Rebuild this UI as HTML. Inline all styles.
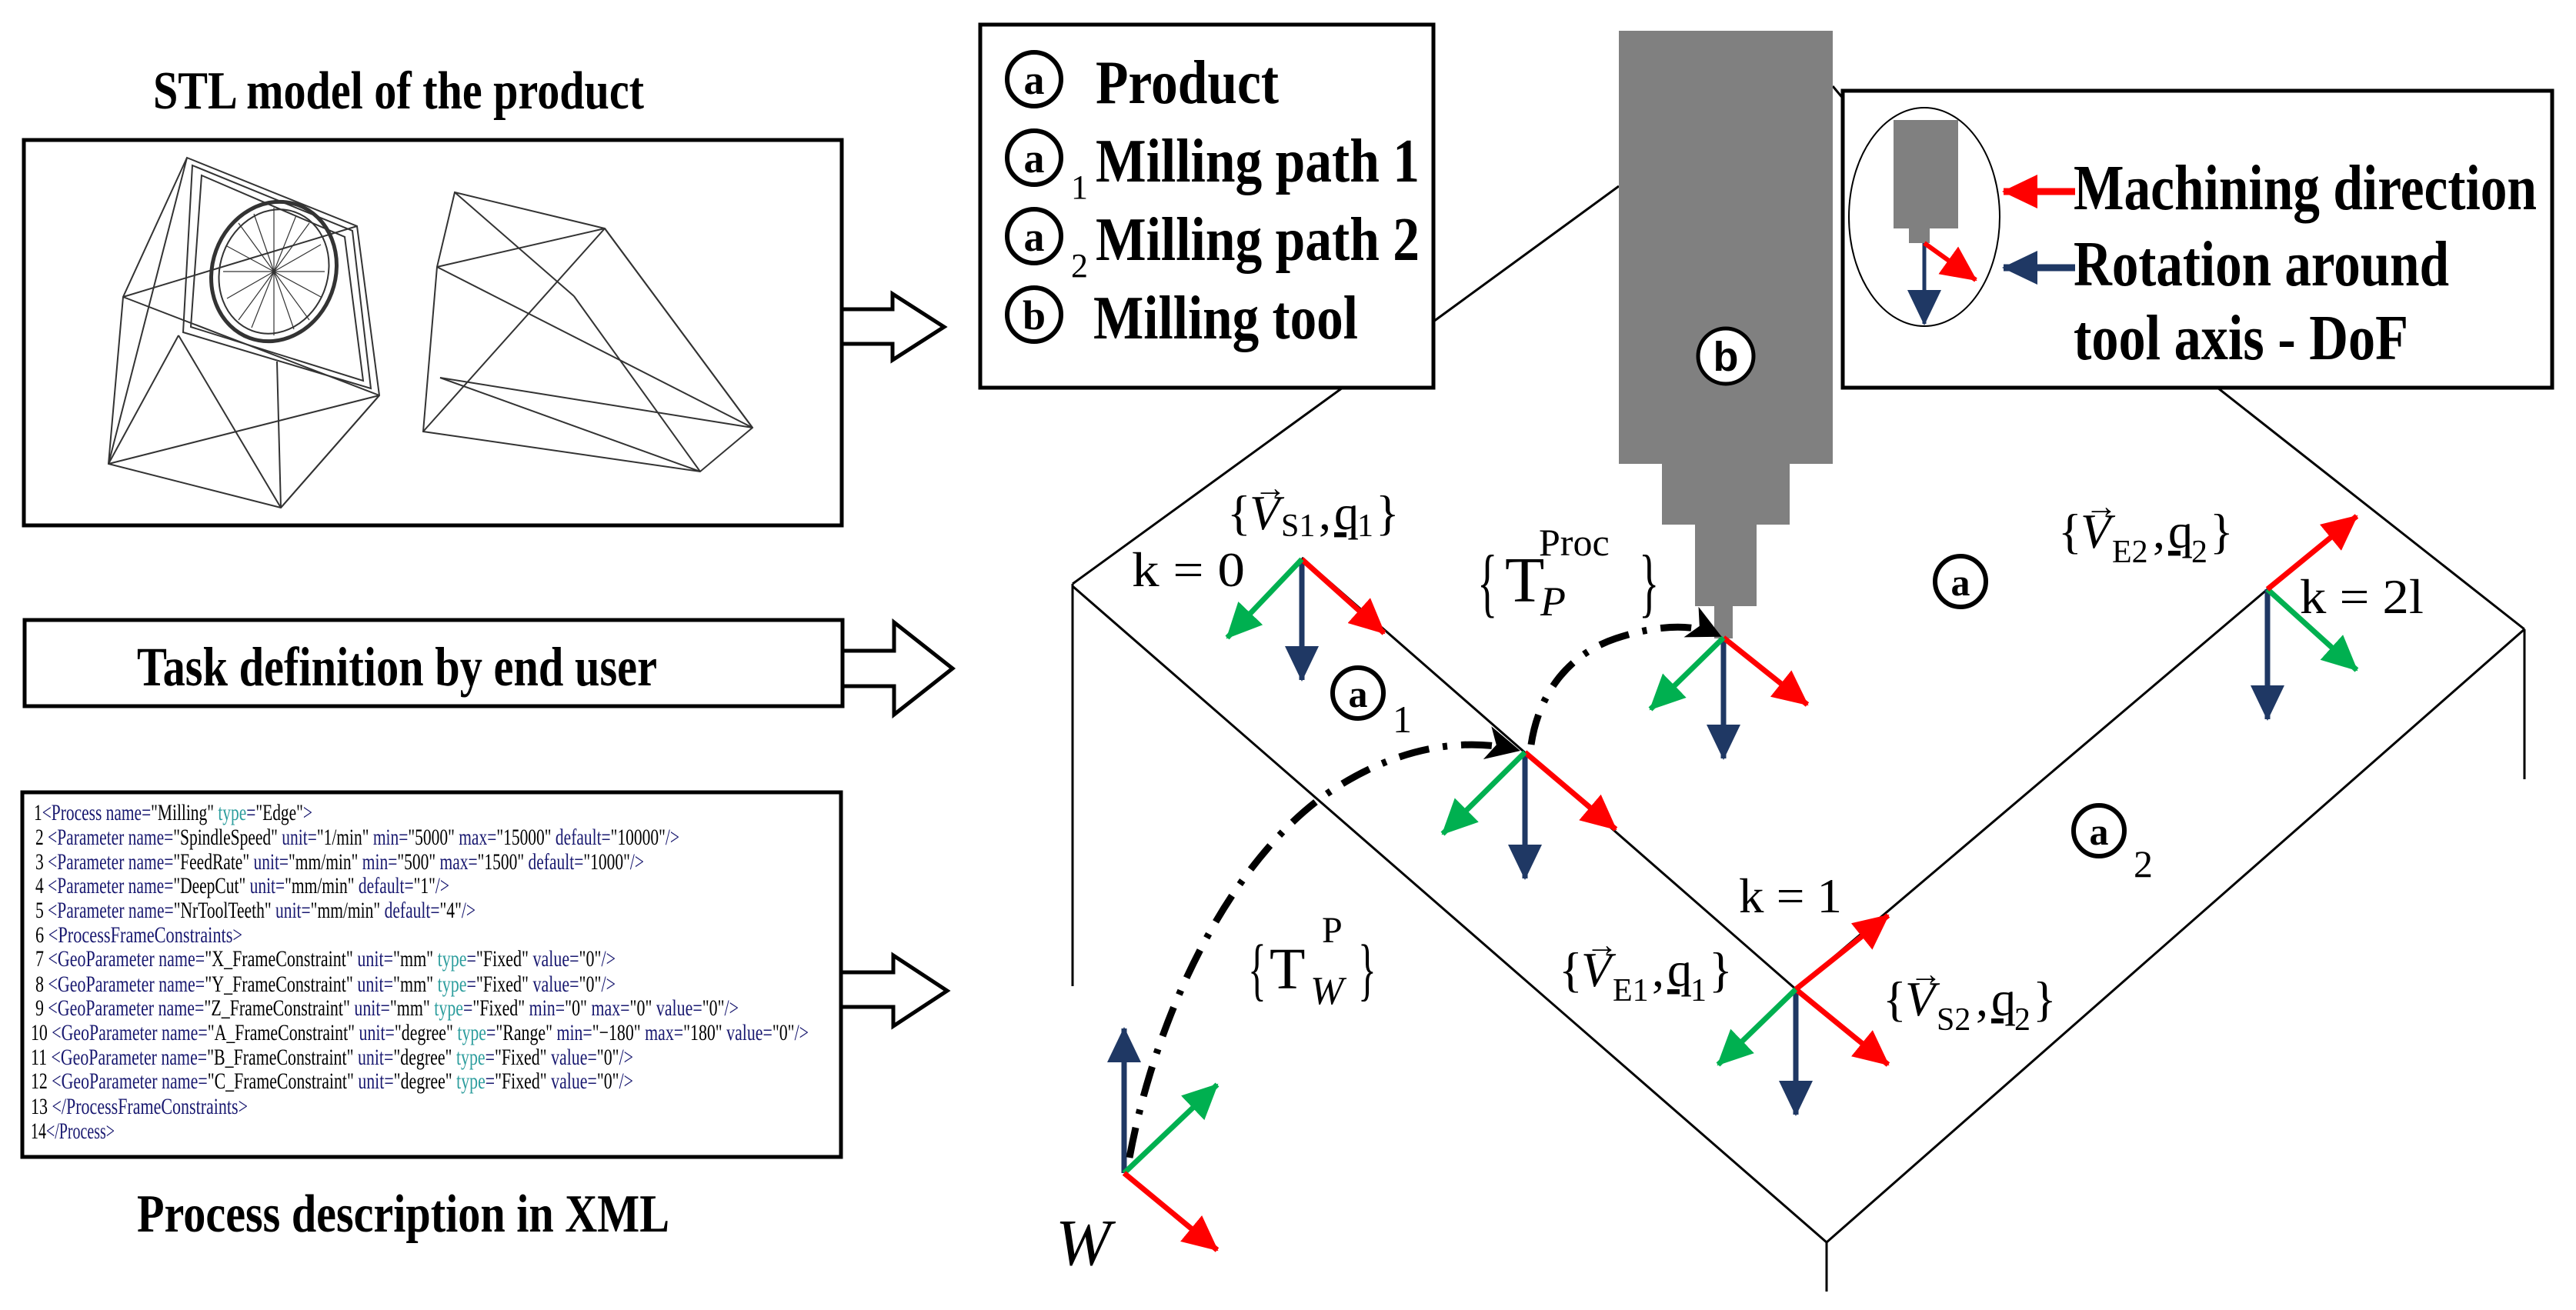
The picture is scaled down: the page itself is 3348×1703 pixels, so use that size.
<!DOCTYPE html>
<html><head><meta charset="utf-8"><style>
html,body{margin:0;padding:0;background:#fff;}
svg{display:block;font-family:"Liberation Serif",serif;}
text{font-family:"Liberation Serif",serif;}
.b{font-weight:bold;}
.sans{font-family:"Liberation Sans",sans-serif;font-weight:bold;}
.x{font-family:"Liberation Serif",serif;font-size:30px;fill:#191970;}
.t{fill:#2e9e9e;}
.k{fill:#000;}
</style></head><body>
<svg width="3348" height="1703" viewBox="0 0 3348 1703" xmlns="http://www.w3.org/2000/svg" font-family="Liberation Serif, serif">
<defs>
<marker id="mr" markerUnits="userSpaceOnUse" markerWidth="50" markerHeight="44" refX="44" refY="22" orient="auto"><path d="M0,0 L46,22 L0,44 Z" fill="#ff0000"/></marker>
<marker id="mg" markerUnits="userSpaceOnUse" markerWidth="50" markerHeight="44" refX="44" refY="22" orient="auto"><path d="M0,0 L46,22 L0,44 Z" fill="#00b050"/></marker>
<marker id="mb" markerUnits="userSpaceOnUse" markerWidth="50" markerHeight="44" refX="44" refY="22" orient="auto"><path d="M0,0 L46,22 L0,44 Z" fill="#1f3864"/></marker>
<marker id="mk" markerUnits="userSpaceOnUse" markerWidth="50" markerHeight="44" refX="40" refY="22" orient="auto"><path d="M0,0 L44,22 L0,44 L12,22 Z" fill="#000"/></marker>
</defs>

<text x="199" y="141" class="b" font-size="70" textLength="638" lengthAdjust="spacingAndGlyphs">STL model of the product</text>
<rect x="31" y="182" width="1063" height="501" fill="none" stroke="#000" stroke-width="5"/>
<g fill="none" stroke="#333" stroke-width="2">
<polygon points="243,205 464,294 493,514 365,660 141,603 160,386"/>
<polygon points="250,215 458,300 482,505 238,432"/>
<polygon points="262,228 448,308 472,495 248,425"/>
<line x1="160" y1="386" x2="464" y2="294"/><line x1="160" y1="386" x2="493" y2="514"/>
<line x1="141" y1="603" x2="243" y2="205"/><line x1="141" y1="603" x2="493" y2="514"/>
<line x1="365" y1="660" x2="232" y2="436"/><line x1="365" y1="660" x2="360" y2="470"/>
<line x1="141" y1="603" x2="232" y2="436"/><line x1="365" y1="660" x2="493" y2="514"/>
<ellipse cx="356" cy="353" rx="80" ry="92" transform="rotate(20 356 353)" stroke-width="5"/>
<ellipse cx="356" cy="353" rx="70" ry="82" transform="rotate(20 356 353)" stroke-width="2"/>
<g stroke-width="1.2">
<line x1="356" y1="353" x2="356" y2="270"/><line x1="356" y1="353" x2="356" y2="436"/><line x1="356" y1="353" x2="290" y2="353"/><line x1="356" y1="353" x2="422" y2="353"/>
<line x1="356" y1="353" x2="310" y2="290"/><line x1="356" y1="353" x2="402" y2="416"/><line x1="356" y1="353" x2="402" y2="290"/><line x1="356" y1="353" x2="310" y2="416"/>
<line x1="356" y1="353" x2="330" y2="278"/><line x1="356" y1="353" x2="382" y2="428"/><line x1="356" y1="353" x2="385" y2="280"/><line x1="356" y1="353" x2="327" y2="426"/>
<line x1="356" y1="353" x2="295" y2="320"/><line x1="356" y1="353" x2="417" y2="386"/><line x1="356" y1="353" x2="417" y2="318"/><line x1="356" y1="353" x2="295" y2="388"/>
</g>
<polygon points="591,250 786,297 978,556 910,613 550,561 568,347"/>
<line x1="591" y1="250" x2="746" y2="385"/><line x1="568" y1="347" x2="786" y2="297"/>
<line x1="568" y1="347" x2="978" y2="556"/><line x1="786" y1="297" x2="550" y2="561"/>
<line x1="572" y1="491" x2="978" y2="556"/><line x1="572" y1="491" x2="910" y2="613"/>
<line x1="746" y1="385" x2="910" y2="613"/><line x1="786" y1="297" x2="978" y2="556"/>
</g>
<polygon points="1094,402 1160,402 1160,382 1227,425 1160,468 1160,447 1094,447" fill="#fff" stroke="#000" stroke-width="5"/>

<rect x="32" y="806" width="1063" height="112" fill="none" stroke="#000" stroke-width="5"/>
<text x="178" y="891" class="b" font-size="72" textLength="676" lengthAdjust="spacingAndGlyphs">Task definition by end user</text>
<polygon points="1095,846 1162,846 1162,809 1238,869 1162,929 1162,892 1095,892" fill="#fff" stroke="#000" stroke-width="5"/>

<rect x="29" y="1030" width="1064" height="474" fill="none" stroke="#000" stroke-width="5"/>
<g class="x">
<text x="44" y="1066" textLength="362" lengthAdjust="spacingAndGlyphs"><tspan class="k">1</tspan>&lt;Process name=<tspan class="k">"Milling"</tspan> <tspan class="t">type</tspan>=<tspan class="k">"Edge"</tspan>&gt;</text>
<text x="46" y="1098" textLength="837" lengthAdjust="spacingAndGlyphs"><tspan class="k">2 </tspan>&lt;Parameter name=<tspan class="k">"SpindleSpeed"</tspan> unit=<tspan class="k">"1/min"</tspan> min=<tspan class="k">"5000"</tspan> max=<tspan class="k">"15000"</tspan> default=<tspan class="k">"10000"</tspan>/&gt;</text>
<text x="46" y="1130" textLength="791" lengthAdjust="spacingAndGlyphs"><tspan class="k">3 </tspan>&lt;Parameter name=<tspan class="k">"FeedRate"</tspan> unit=<tspan class="k">"mm/min"</tspan> min=<tspan class="k">"500"</tspan> max=<tspan class="k">"1500"</tspan> default=<tspan class="k">"1000"</tspan>/&gt;</text>
<text x="46" y="1161" textLength="538" lengthAdjust="spacingAndGlyphs"><tspan class="k">4 </tspan>&lt;Parameter name=<tspan class="k">"DeepCut"</tspan> unit=<tspan class="k">"mm/min"</tspan> default=<tspan class="k">"1"</tspan>/&gt;</text>
<text x="46" y="1193" textLength="572" lengthAdjust="spacingAndGlyphs"><tspan class="k">5 </tspan>&lt;Parameter name=<tspan class="k">"NrToolTeeth"</tspan> unit=<tspan class="k">"mm/min"</tspan> default=<tspan class="k">"4"</tspan>/&gt;</text>
<text x="46" y="1225" textLength="269" lengthAdjust="spacingAndGlyphs"><tspan class="k">6  </tspan>&lt;ProcessFrameConstraints&gt;</text>
<text x="46" y="1256" textLength="754" lengthAdjust="spacingAndGlyphs"><tspan class="k">7   </tspan>&lt;GeoParameter name=<tspan class="k">"X_FrameConstraint"</tspan> unit=<tspan class="k">"mm"</tspan> <tspan class="t">type</tspan>=<tspan class="k">"Fixed"</tspan> value=<tspan class="k">"0"</tspan>/&gt;</text>
<text x="46" y="1289" textLength="754" lengthAdjust="spacingAndGlyphs"><tspan class="k">8   </tspan>&lt;GeoParameter name=<tspan class="k">"Y_FrameConstraint"</tspan> unit=<tspan class="k">"mm"</tspan> <tspan class="t">type</tspan>=<tspan class="k">"Fixed"</tspan> value=<tspan class="k">"0"</tspan>/&gt;</text>
<text x="46" y="1320" textLength="914" lengthAdjust="spacingAndGlyphs"><tspan class="k">9   </tspan>&lt;GeoParameter name=<tspan class="k">"Z_FrameConstraint"</tspan> unit=<tspan class="k">"mm"</tspan> <tspan class="t">type</tspan>=<tspan class="k">"Fixed"</tspan> min=<tspan class="k">"0"</tspan> max=<tspan class="k">"0"</tspan> value=<tspan class="k">"0"</tspan>/&gt;</text>
<text x="40" y="1352" textLength="1011" lengthAdjust="spacingAndGlyphs"><tspan class="k">10  </tspan>&lt;GeoParameter name=<tspan class="k">"A_FrameConstraint"</tspan> unit=<tspan class="k">"degree"</tspan> <tspan class="t">type</tspan>=<tspan class="k">"Range"</tspan> min=<tspan class="k">"−180"</tspan> max=<tspan class="k">"180"</tspan> value=<tspan class="k">"0"</tspan>/&gt;</text>
<text x="40" y="1384" textLength="783" lengthAdjust="spacingAndGlyphs"><tspan class="k">11  </tspan>&lt;GeoParameter name=<tspan class="k">"B_FrameConstraint"</tspan> unit=<tspan class="k">"degree"</tspan> <tspan class="t">type</tspan>=<tspan class="k">"Fixed"</tspan> value=<tspan class="k">"0"</tspan>/&gt;</text>
<text x="40" y="1415" textLength="783" lengthAdjust="spacingAndGlyphs"><tspan class="k">12  </tspan>&lt;GeoParameter name=<tspan class="k">"C_FrameConstraint"</tspan> unit=<tspan class="k">"degree"</tspan> <tspan class="t">type</tspan>=<tspan class="k">"Fixed"</tspan> value=<tspan class="k">"0"</tspan>/&gt;</text>
<text x="40" y="1448" textLength="282" lengthAdjust="spacingAndGlyphs"><tspan class="k">13  </tspan>&lt;/ProcessFrameConstraints&gt;</text>
<text x="40" y="1480" textLength="109" lengthAdjust="spacingAndGlyphs"><tspan class="k">14</tspan>&lt;/Process&gt;</text>
</g>
<polygon points="1093,1264 1161,1264 1161,1242 1231,1288 1161,1334 1161,1309 1093,1309" fill="#fff" stroke="#000" stroke-width="5"/>
<text x="178" y="1601" class="b" font-size="70" textLength="692" lengthAdjust="spacingAndGlyphs">Process description in XML</text>

<g stroke="#000" stroke-width="3" fill="none">
<line x1="1394" y1="759" x2="1745" y2="504"/>
<line x1="2882" y1="504" x2="3281" y2="818"/>
<line x1="1394" y1="759" x2="1394" y2="1282"/>
<line x1="3281" y1="818" x2="3281" y2="1013"/>
<line x1="1394" y1="762" x2="2374" y2="1615"/>
<line x1="3281" y1="818" x2="2374" y2="1615"/>
<line x1="2374" y1="1615" x2="2374" y2="1679"/>
<line x1="1692" y1="725" x2="2334" y2="1286"/>
<line x1="2334" y1="1286" x2="2947" y2="766"/>
<line x1="1863" y1="418" x2="2104" y2="242"/>
<line x1="2382" y1="112" x2="2397" y2="130"/>
</g>

<g fill="#808080">
<rect x="2104" y="40" width="278" height="563"/>
<rect x="2160" y="602" width="166" height="80"/>
<rect x="2203" y="681" width="80" height="107"/>
<rect x="2228" y="787" width="24" height="43"/>
</g>
<circle cx="2243" cy="463" r="36" fill="#fff" stroke="#000" stroke-width="5"/>
<text x="2243" y="482" class="sans" font-size="54" text-anchor="middle">b</text>

<rect x="1274" y="32" width="589" height="472" fill="#fff" stroke="#000" stroke-width="5"/>
<g stroke="#000" stroke-width="6" fill="#fff">
<circle cx="1344" cy="103" r="35"/><circle cx="1344" cy="205" r="35"/><circle cx="1344" cy="307" r="35"/><circle cx="1344" cy="409" r="35"/>
</g>
<g class="sans" font-size="54" text-anchor="middle">
<text x="1344" y="122">a</text><text x="1344" y="224">a</text><text x="1344" y="326">a</text><text x="1344" y="428">b</text>
</g>
<text x="1392" y="258" font-size="44">1</text>
<text x="1392" y="360" font-size="44">2</text>
<g class="b" font-size="80">
<text x="1424" y="134" textLength="238" lengthAdjust="spacingAndGlyphs">Product</text>
<text x="1424" y="236" textLength="421" lengthAdjust="spacingAndGlyphs">Milling path 1</text>
<text x="1424" y="338" textLength="421" lengthAdjust="spacingAndGlyphs">Milling path 2</text>
<text x="1421" y="440" textLength="344" lengthAdjust="spacingAndGlyphs">Milling tool</text>
</g>

<rect x="2395" y="118" width="922" height="386" fill="#fff" stroke="#000" stroke-width="5"/>
<ellipse cx="2501" cy="282" rx="98" ry="142" fill="none" stroke="#000" stroke-width="2"/>
<rect x="2461" y="156" width="84" height="141" fill="#808080"/>
<rect x="2481" y="296" width="27" height="20" fill="#808080"/>
<line x1="2501" y1="316" x2="2501" y2="421" stroke="#1f3864" stroke-width="5" marker-end="url(#mb)"/>
<line x1="2501" y1="316" x2="2568" y2="364" stroke="#ff0000" stroke-width="6" marker-end="url(#mr)"/>
<line x1="2697" y1="249" x2="2604" y2="249" stroke="#ff0000" stroke-width="9" marker-end="url(#mr)"/>
<line x1="2697" y1="348" x2="2604" y2="348" stroke="#1f3864" stroke-width="9" marker-end="url(#mb)"/>
<g class="b" font-size="84">
<text x="2695" y="272" textLength="602" lengthAdjust="spacingAndGlyphs">Machining direction</text>
<text x="2695" y="371" textLength="488" lengthAdjust="spacingAndGlyphs">Rotation around</text>
<text x="2695" y="467" textLength="435" lengthAdjust="spacingAndGlyphs">tool axis - DoF</text>
</g>

<g stroke-width="7">
<line x1="1692" y1="727" x2="1692" y2="884" stroke="#1f3864" marker-end="url(#mb)"/>
<line x1="1692" y1="727" x2="1799" y2="823" stroke="#ff0000" marker-end="url(#mr)"/>
<line x1="1692" y1="727" x2="1595" y2="829" stroke="#00b050" marker-end="url(#mg)"/>
<line x1="2240" y1="829" x2="2240" y2="986" stroke="#1f3864" marker-end="url(#mb)"/>
<line x1="2240" y1="829" x2="2349" y2="916" stroke="#ff0000" marker-end="url(#mr)"/>
<line x1="2240" y1="829" x2="2145" y2="922" stroke="#00b050" marker-end="url(#mg)"/>
<line x1="1982" y1="978" x2="1982" y2="1142" stroke="#1f3864" marker-end="url(#mb)"/>
<line x1="1982" y1="978" x2="2100" y2="1078" stroke="#ff0000" marker-end="url(#mr)"/>
<line x1="1982" y1="978" x2="1875" y2="1084" stroke="#00b050" marker-end="url(#mg)"/>
<line x1="2334" y1="1286" x2="2334" y2="1449" stroke="#1f3864" marker-end="url(#mb)"/>
<line x1="2334" y1="1286" x2="2454" y2="1384" stroke="#ff0000" marker-end="url(#mr)"/>
<line x1="2334" y1="1286" x2="2233" y2="1384" stroke="#00b050" marker-end="url(#mg)"/>
<line x1="2334" y1="1286" x2="2454" y2="1190" stroke="#ff0000" marker-end="url(#mr)"/>
<line x1="2947" y1="766" x2="2947" y2="935" stroke="#1f3864" marker-end="url(#mb)"/>
<line x1="2947" y1="766" x2="3063" y2="871" stroke="#00b050" marker-end="url(#mg)"/>
<line x1="2947" y1="766" x2="3063" y2="671" stroke="#ff0000" marker-end="url(#mr)"/>
<line x1="1461" y1="1525" x2="1461" y2="1337" stroke="#1f3864" marker-end="url(#mb)"/>
<line x1="1461" y1="1525" x2="1582" y2="1410" stroke="#00b050" marker-end="url(#mg)"/>
<line x1="1461" y1="1525" x2="1582" y2="1625" stroke="#ff0000" marker-end="url(#mr)"/>
</g>

<g fill="none" stroke="#000" stroke-width="9" stroke-dasharray="40 18 6 18">
<path d="M1468,1505 C1500,1330 1590,1130 1720,1035 C1820,965 1910,960 1972,975" marker-end="url(#mk)"/>
<path d="M1990,968 C2000,900 2040,850 2100,830 C2160,810 2205,812 2234,826" marker-end="url(#mk)"/>
</g>

<g font-size="64">
<text x="1471" y="762" textLength="147" lengthAdjust="spacingAndGlyphs">k = 0</text>
<text x="2989" y="797" textLength="161" lengthAdjust="spacingAndGlyphs">k = 2l</text>
<text x="2260" y="1186" textLength="134" lengthAdjust="spacingAndGlyphs">k = 1</text>
</g>
<g font-size="64">
<text x="1595" y="688">{</text><text x="1624" y="688" font-style="italic">V</text>
<text x="1630" y="648" font-size="42">→</text>
<text x="1665" y="697" font-size="42">S1</text><text x="1714" y="688">,</text>
<text x="1734" y="688" text-decoration="underline">q</text><text x="1764" y="697" font-size="42">1</text><text x="1788" y="688">}</text>
</g>
<g font-size="64">
<text x="2675" y="712">{</text><text x="2704" y="712" font-style="italic">V</text>
<text x="2710" y="672" font-size="42">→</text>
<text x="2745" y="731" font-size="42">E2</text><text x="2798" y="712">,</text>
<text x="2818" y="712" text-decoration="underline">q</text><text x="2848" y="731" font-size="42">2</text><text x="2872" y="712">}</text>
</g>
<g font-size="64">
<text x="2026" y="1282">{</text><text x="2055" y="1282" font-style="italic">V</text>
<text x="2061" y="1242" font-size="42">→</text>
<text x="2096" y="1301" font-size="42">E1</text><text x="2147" y="1282">,</text>
<text x="2167" y="1282" text-decoration="underline">q</text><text x="2197" y="1301" font-size="42">1</text><text x="2221" y="1282">}</text>
</g>
<g font-size="64">
<text x="2447" y="1320">{</text><text x="2476" y="1320" font-style="italic">V</text>
<text x="2482" y="1280" font-size="42">→</text>
<text x="2517" y="1339" font-size="42">S2</text><text x="2568" y="1320">,</text>
<text x="2588" y="1320" text-decoration="underline">q</text><text x="2618" y="1339" font-size="42">2</text><text x="2642" y="1320">}</text>
</g>
<text x="1920" y="790" font-size="100" transform="translate(1920 0) scale(0.55 1) translate(-1920 0)">{</text>
<text x="1956" y="782" font-size="84">T</text>
<text x="2000" y="722" font-size="50">Proc</text>
<text x="2002" y="800" font-size="54" font-style="italic">P</text>
<text x="2130" y="790" font-size="100" transform="translate(2130 0) scale(0.55 1) translate(-2130 0)">}</text>
<text x="1622" y="1290" font-size="90" transform="translate(1622 0) scale(0.55 1) translate(-1622 0)">{</text>
<text x="1650" y="1285" font-size="76">T</text>
<text x="1718" y="1225" font-size="48">P</text>
<text x="1703" y="1305" font-size="52" font-style="italic">W</text>
<text x="1765" y="1290" font-size="90" transform="translate(1765 0) scale(0.55 1) translate(-1765 0)">}</text>
<text x="1372" y="1644" font-size="86" font-style="italic">W</text>

<g stroke="#000" stroke-width="6" fill="#fff">
<circle cx="2548" cy="756" r="33"/><circle cx="1765" cy="901" r="33"/><circle cx="2728" cy="1080" r="33"/>
</g>
<g class="sans" font-size="50" text-anchor="middle">
<text x="2548" y="774">a</text><text x="1765" y="919">a</text><text x="2728" y="1098">a</text>
</g>
<text x="1810" y="952" font-size="50">1</text>
<text x="2773" y="1140" font-size="50">2</text>
</svg>
</body></html>
